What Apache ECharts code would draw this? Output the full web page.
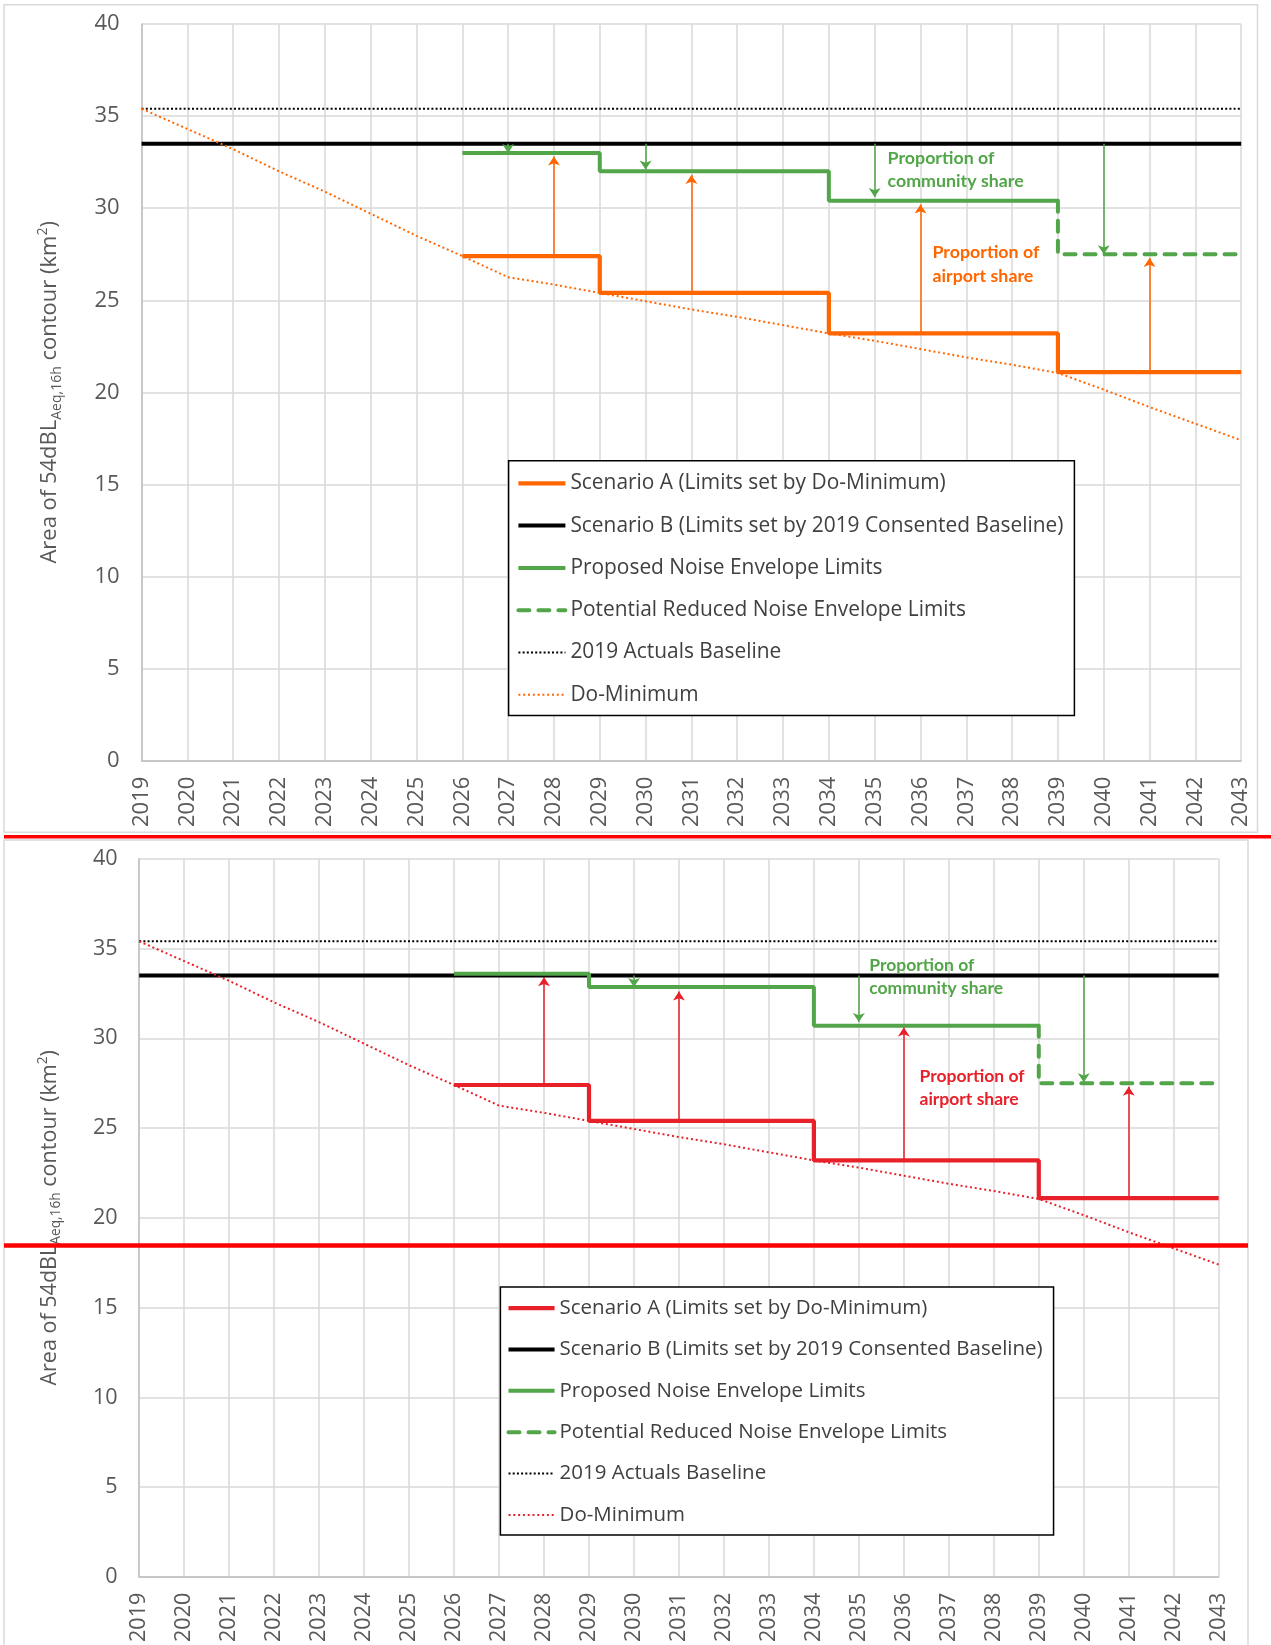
<!DOCTYPE html>
<html>
<head>
<meta charset="utf-8">
<script src="https://cdn.jsdelivr.net/npm/echarts@6/dist/echarts.min.js"></script>
<style>
  html, body { margin: 0; padding: 0; background: #fff; }
  #topChart { position: absolute; left: 0; top: 0; width: 1271px; height: 836px; }
  #bottomChart { position: absolute; left: 0; top: 830px; width: 1271px; height: 815px; }
</style>
</head>
<body>
<div id="topChart"></div>
<div id="bottomChart"></div>
<script>
// years on the x axis
const years = [2019, 2020, 2021, 2022, 2023, 2024, 2025, 2026, 2027, 2028, 2029, 2030, 2031,
  2032, 2033, 2034, 2035, 2036, 2037, 2038, 2039, 2040, 2041, 2042, 2043]
const doMinimum = [35.4, 34.3, 33.2, 32.0, 30.9, 29.7, 28.5, 27.4, 26.25, 25.85, 25.4, 24.95, 24.5,
  24.1, 23.65, 23.2, 22.8, 22.35, 21.9, 21.5, 21.05, 20.15, 19.2, 18.3, 17.4]

// step series: value from each year until the next one
const stepYears = [2026, 2029, 2034, 2039, 2043]
const scenarioA = [27.4, 25.4, 23.2, 21.1, 21.1]
const scenarioB = [33.5, 33.5]
const baseline2019 = [35.4, 35.4]
const proposedTop = [33.0, 32.0, 30.4, 30.4]
const proposedBottom = [33.6, 32.85, 30.7, 30.7]
const reducedYears = [2039, 2043]
const reducedLimit = 27.5

// arrows
const airportArrowYears = [2028, 2031, 2036, 2041]
const airportArrowFrom = [27.4, 25.4, 23.2, 21.1]
const airportArrowToTop = [32.8, 31.8, 30.2, 27.3]
const airportArrowToBottom = [33.4, 32.6, 30.6, 27.3]
const communityArrowYearsTop = [2027, 2030, 2035, 2040]
const communityArrowToTop = [33.0, 32.1, 30.6, 27.5]
const communityArrowYearsBottom = [2030, 2035, 2040]
const communityArrowToBottom = [32.85, 30.9, 27.55]

const yMin = 0
const yMax = 40
const yStep = 5

const GREEN = '#52a548'
const GRID_COLOR = '#d9d9d9'
const LABEL_COLOR = '#595959'
const FONT = 'Open Sans'

const names = [
  'Scenario A (Limits set by Do-Minimum)',
  'Scenario B (Limits set by 2019 Consented Baseline)',
  'Proposed Noise Envelope Limits',
  'Potential Reduced Noise Envelope Limits',
  '2019 Actuals Baseline',
  'Do-Minimum'
]

const zip = (xs, ys) => xs.map((x, i) => [x, ys[i]])
const span = (vals) => [[years[0], vals[0]], [years[years.length - 1], vals[1]]]

function arrows(xs, from, to, color) {
  return {
    silent: true,
    symbol: ['none', 'arrow'],
    symbolSize: 9,
    label: { show: false },
    emphasis: { disabled: true },
    lineStyle: { color, width: 1.5, type: 'solid' },
    data: xs.map((x, i) => [{ coord: [x, from[i]] }, { coord: [x, to[i]] }])
  }
}

function buildOption(cfg) {
  const s = cfg.scale
  const line = (extra) => Object.assign({
    type: 'line', symbol: 'none', silent: true, animation: false,
    emphasis: { disabled: true }
  }, extra)

  return {
    animation: false,
    grid: cfg.grid,
    xAxis: {
      type: 'value', min: years[0], max: years[years.length - 1], interval: 1,
      axisLine: { lineStyle: { color: '#bfbfbf', width: 1.5 } },
      axisTick: { show: false },
      splitLine: { lineStyle: { color: GRID_COLOR, width: 1.5 } },
      axisLabel: {
        rotate: 90, margin: 16 * s, color: LABEL_COLOR, fontFamily: FONT, fontSize: 22 * s,
        formatter: (v) => String(v)
      }
    },
    yAxis: {
      type: 'value', min: yMin, max: yMax, interval: yStep,
      axisLine: { show: true, lineStyle: { color: '#bfbfbf', width: 1.5 } },
      axisTick: { show: false },
      splitLine: { lineStyle: { color: GRID_COLOR, width: 1.5 } },
      axisLabel: { margin: 22 * s, color: LABEL_COLOR, fontFamily: FONT, fontSize: 22 * s },
      name: '{m|Area of 54dBL}{s|Aeq,16h}{m| contour (km}{p|2}{m|)}',
      nameLocation: 'middle',
      nameRotate: 90,
      nameGap: cfg.nameGap,
      nameTextStyle: {
        color: LABEL_COLOR,
        rich: {
          m: { fontFamily: FONT, fontSize: 22 * s, color: LABEL_COLOR, lineHeight: 28 * s, verticalAlign: 'middle' },
          s: { fontFamily: FONT, fontSize: 14 * s, color: LABEL_COLOR, lineHeight: 28 * s, verticalAlign: 'bottom' },
          p: { fontFamily: FONT, fontSize: 14 * s, color: LABEL_COLOR, lineHeight: 28 * s, verticalAlign: 'top' }
        }
      }
    },
    legend: {
      data: names,
      orient: 'vertical',
      left: cfg.legend.left,
      top: cfg.legend.top,
      padding: cfg.legend.padding,
      itemGap: cfg.legend.gap,
      itemWidth: 47 * s,
      itemHeight: 14 * s,
      selectedMode: false,
      backgroundColor: '#fff',
      borderColor: '#000',
      borderWidth: 1.5,
      itemStyle: { opacity: 0 },
      lineStyle: { width: 'inherit' },
      textStyle: {
        color: '#404040', fontFamily: FONT, fontSize: 20.9 * s,
        lineHeight: 22 * s, width: cfg.legend.textWidth
      }
    },
    graphic: cfg.graphic,
    series: [
      line({
        name: names[0], data: zip(stepYears, scenarioA), step: 'end', z: 4,
        color: cfg.scenarioColor, lineStyle: { color: cfg.scenarioColor, width: 4.2 },
        markLine: arrows(airportArrowYears, airportArrowFrom, cfg.airportTo, cfg.scenarioColor)
      }),
      line({
        name: names[1], data: span(scenarioB), z: 3,
        color: '#000', lineStyle: { color: '#000', width: 4 }
      }),
      line({
        name: names[2], data: zip(stepYears.slice(0, 4), cfg.proposed), step: 'end', z: 4,
        color: GREEN, lineStyle: { color: GREEN, width: 4 },
        markLine: arrows(cfg.communityYears, cfg.communityYears.map(() => scenarioB[0]), cfg.communityTo, GREEN)
      }),
      line({
        name: names[3], data: zip(reducedYears, [cfg.proposed[3], reducedLimit]), step: 'start', z: 4,
        color: GREEN, lineStyle: { color: GREEN, width: 4, type: [11, 9], cap: 'round' }
      }),
      line({
        name: names[4], data: span(baseline2019), z: 2,
        color: '#000', lineStyle: { color: '#000', width: 2, type: [2, 2.2] }
      }),
      line({
        name: names[5], data: zip(years, doMinimum), z: 5,
        color: cfg.scenarioColor, lineStyle: { color: cfg.scenarioColor, width: 2, type: [2, 2.8] }
      })
    ]
  }
}

function note(x, y, lines, color, size) {
  return {
    type: 'text', x, y, z: 20, silent: true,
    style: {
      text: lines.join('\n'), fill: color, fontFamily: 'Lato', fontWeight: 'bold',
      fontSize: size, lineHeight: size * 1.33, align: 'left', verticalAlign: 'top'
    }
  }
}

const topChart = echarts.init(document.getElementById('topChart'))
topChart.setOption(buildOption({
  scale: 1,
  grid: { left: 141.6, top: 24, width: 1099.6, height: 736.7 },
  nameGap: 78,
  scenarioColor: '#ff6600',
  proposed: proposedTop,
  airportTo: airportArrowToTop,
  communityYears: communityArrowYearsTop,
  communityTo: communityArrowToTop,
  legend: { left: 508.6, top: 460.7, padding: [11.6, 8, 9.7, 7.7], gap: 20.3, textWidth: 496 },
  graphic: [
    { type: 'rect', silent: true, z: -1, shape: { x: 4, y: 4.7, width: 1253.5, height: 827.6 },
      style: { fill: 'none', stroke: '#d9d9d9', lineWidth: 1.5 } },
    note(887.6, 146.2, ['Proportion of', 'community share'], GREEN, 17.8),
    note(932.5, 240.4, ['Proportion of', 'airport share'], '#ff6600', 17.8)
  ]
}))

const bottomChart = echarts.init(document.getElementById('bottomChart'))
bottomChart.setOption(buildOption({
  scale: 0.98,
  grid: { left: 139.2, top: 28.7, width: 1079.5, height: 722.3 },
  nameGap: 76,
  scenarioColor: '#e8202a',
  proposed: proposedBottom,
  airportTo: airportArrowToBottom,
  communityYears: communityArrowYearsBottom,
  communityTo: communityArrowToBottom,
  legend: { left: 500.4, top: 457, padding: [10.3, 7, 9.4, 6], gap: 19.8, textWidth: 487 },
  graphic: [
    { type: 'rect', silent: true, z: -1, shape: { x: 4, y: 10, width: 1244, height: 900 },
      style: { fill: 'none', stroke: '#d9d9d9', lineWidth: 1.5 } },
    { type: 'line', silent: true, z: 30, shape: { x1: 4, y1: 6.8, x2: 1271, y2: 6.8 },
      style: { stroke: '#ff0000', lineWidth: 3.5 } },
    { type: 'line', silent: true, z: 30, shape: { x1: 4, y1: 415.5, x2: 1248, y2: 415.5 },
      style: { stroke: '#ff0000', lineWidth: 4.5 } },
    note(869.2, 123.3, ['Proportion of', 'community share'], GREEN, 17.5),
    note(919.5, 234.5, ['Proportion of', 'airport share'], '#e8202a', 17.5)
  ]
}))
</script>
</body>
</html>
